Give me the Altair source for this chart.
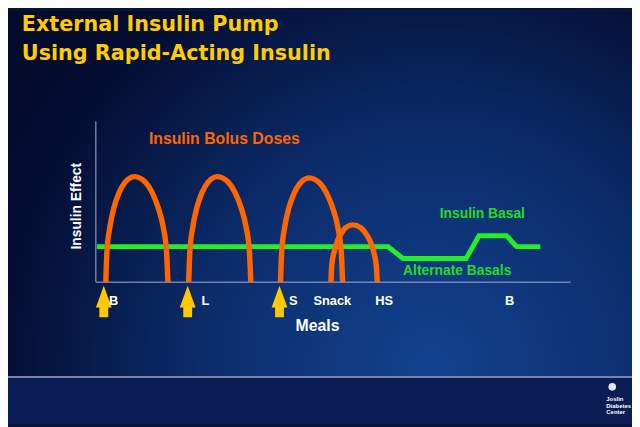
import altair as alt
import pandas as pd

# ---- data (x: hours along the day axis, y: insulin effect units) ----
arc1_x = [0.50, 0.56, 0.71, 0.92, 1.18, 1.47, 1.95, 2.51, 2.84, 3.14, 3.40, 3.57, 3.64]
arc1_y = [0.00, 1.90, 3.44, 4.66, 5.58, 6.20, 6.56, 6.20, 5.58, 4.66, 3.44, 1.90, 0.00]
arc2_x = [4.69, 4.75, 4.90, 5.11, 5.37, 5.66, 6.14, 6.70, 7.03, 7.33, 7.59, 7.76, 7.83]
arc2_y = [0.00, 1.90, 3.44, 4.66, 5.58, 6.20, 6.56, 6.20, 5.58, 4.66, 3.44, 1.90, 0.00]
arc3_x = [9.33, 9.39, 9.54, 9.75, 10.01, 10.30, 10.78, 11.34, 11.67, 11.97, 12.23, 12.40, 12.47]
arc3_y = [0.00, 1.88, 3.40, 4.60, 5.50, 6.12, 6.48, 6.12, 5.50, 4.60, 3.40, 1.88, 0.00]
arc4_x = [11.88, 11.92, 12.04, 12.20, 12.40, 12.61, 12.97, 13.39, 13.63, 13.86, 14.04, 14.17, 14.22]
arc4_y = [0.00, 1.05, 1.88, 2.55, 3.04, 3.38, 3.56, 3.38, 3.04, 2.55, 1.88, 1.05, 0.00]

basal_x = [0.05, 14.77, 15.52, 18.71, 19.36, 20.76, 21.26, 22.46]
basal_y = [2.21, 2.21, 1.47, 1.47, 2.88, 2.88, 2.21, 2.21]

meal_labels = ["B", "L", "S", "Snack", "HS", "B"]
meal_label_x = [0.90, 5.54, 9.98, 11.95, 14.57, 20.91]
arrow_x = [0.40, 4.64, 9.28]

title_lines = ["External Insulin Pump", "Using Rapid-Acting Insulin"]

# ---- tables ----
rows = []
for name, xs_, ys_ in [("1", arc1_x, arc1_y), ("2", arc2_x, arc2_y),
                       ("3", arc3_x, arc3_y), ("4", arc4_x, arc4_y)]:
    for i, (a, b) in enumerate(zip(xs_, ys_)):
        rows.append({"arc": name, "i": i, "x": a, "y": b})
arcs_df = pd.DataFrame(rows)
basal_df = pd.DataFrame({"x": basal_x, "y": basal_y, "i": range(len(basal_x))})
labels_df = pd.DataFrame({"x": meal_label_x, "label": meal_labels, "y": [-1.17] * len(meal_labels)})
arrows_df = pd.DataFrame({"x": arrow_x, "y": [-1.20] * len(arrow_x)})
axes_df = pd.DataFrame({"x": [0, 0], "x2": [0, 24], "y": [0, 0], "y2": [10, 0]})

W, H = 632, 419
xs = alt.Scale(domain=[0, 24], range=[89, 570], nice=False, zero=False)
ys = alt.Scale(domain=[0, 10], range=[275, 112], nice=False, zero=False)

one = pd.DataFrame({"a": [0]})
FONT = "Liberation Sans"

bg = alt.Chart(one).mark_rect(
    color=alt.Gradient(
        gradient="radial",
        stops=[alt.GradientStop(color="#12428f", offset=0),
               alt.GradientStop(color="#0c2d6c", offset=0.45),
               alt.GradientStop(color="#040f35", offset=0.85),
               alt.GradientStop(color="#030a2a", offset=1)],
        x1=0.68, y1=0.78, r1=0, x2=0.68, y2=0.78, r2=0.8)
).encode(x=alt.value(0), x2=alt.value(W), y=alt.value(0), y2=alt.value(371))

bottom = alt.Chart(one).mark_rect(color="#0a1d55").encode(
    x=alt.value(0), x2=alt.value(W), y=alt.value(372), y2=alt.value(H))
sep = alt.Chart(one).mark_rule(color="#7b84a6", strokeWidth=2).encode(
    x=alt.value(0), x2=alt.value(W), y=alt.value(371))

axes = alt.Chart(axes_df).mark_rule(color="#a9b1cf", strokeWidth=1).encode(
    x=alt.X("x:Q", scale=xs, axis=None), x2="x2:Q",
    y=alt.Y("y:Q", scale=ys, axis=None), y2="y2:Q")

basal = alt.Chart(basal_df).mark_line(color="#22f022", strokeWidth=5, strokeCap="butt").encode(
    x=alt.X("x:Q", scale=xs, axis=None), y=alt.Y("y:Q", scale=ys, axis=None), order="i:Q")

arcs = alt.Chart(arcs_df).mark_line(color="#ff6600", strokeWidth=5.5, interpolate="monotone",
                                    strokeCap="butt").encode(
    x=alt.X("x:Q", scale=xs, axis=None), y=alt.Y("y:Q", scale=ys, axis=None),
    detail="arc:N", order="i:Q")

arrow_path = "M0,-1L0.5,0.375L0.28,0.375L0.28,1L-0.28,1L-0.28,0.375L-0.5,0.375Z"
arrows = alt.Chart(arrows_df).mark_point(shape=arrow_path, filled=True, color="#ffc800",
                                         opacity=1, size=1024, strokeWidth=0).encode(
    x=alt.X("x:Q", scale=xs, axis=None), y=alt.Y("y:Q", scale=ys, axis=None))

labels = alt.Chart(labels_df).mark_text(color="white", font=FONT, fontWeight="bold",
                                        fontSize=13, baseline="middle").encode(
    x=alt.X("x:Q", scale=xs, axis=None), y=alt.Y("y:Q", scale=ys, axis=None), text="label:N")


def note(text, x, y, color, size, angle=0):
    return alt.Chart(pd.DataFrame({"x": [x], "y": [y], "t": [text]})).mark_text(
        color=color, font=FONT, fontWeight="bold", fontSize=size, baseline="middle",
        angle=angle).encode(
        x=alt.X("x:Q", scale=xs, axis=None), y=alt.Y("y:Q", scale=ys, axis=None), text="t:N")


notes = [
    note("Meals", 11.20, -2.70, "white", 16),
    note("Insulin Effect", -0.95, 4.72, "white", 14, angle=270),
    note("Insulin Bolus Doses", 6.49, 8.90, "#ff6600", 16),
    note("Insulin Basal", 19.53, 4.23, "#22dd22", 14),
    note("Alternate Basals", 18.26, 0.67, "#22dd22", 14),
]

title1 = alt.Chart(one).mark_text(text=title_lines[0], color="#ffcc00", font="DejaVu Sans",
                                  fontWeight="bold", fontSize=21, align="left",
                                  baseline="alphabetic").encode(x=alt.value(14), y=alt.value(21))
title2 = alt.Chart(one).mark_text(text=title_lines[1], color="#ffcc00", font="DejaVu Sans",
                                  fontWeight="bold", fontSize=21, align="left",
                                  baseline="alphabetic").encode(x=alt.value(14), y=alt.value(50))

logo_dot = alt.Chart(one).mark_point(shape="circle", filled=True, color="#dfe6f2", size=60,
                                     opacity=1).encode(x=alt.value(612), y=alt.value(381))
logo_txt = [
    alt.Chart(one).mark_text(text=t, color="white", font=FONT, fontWeight="bold", fontSize=6,
                             align="left", baseline="middle").encode(x=alt.value(606), y=alt.value(yy))
    for t, yy in [("Joslin", 393), ("Diabetes", 400), ("Center", 407)]
]

chart = alt.layer(bg, bottom, sep, axes, basal, arcs, arrows, labels, *notes, title1, title2,
                  logo_dot, *logo_txt).properties(
    width=W, height=H, padding=0, background="#061434", autosize=alt.AutoSizeParams(type="none")
).configure_view(stroke=None)

chart.save("out.html", embed_options={"renderer": "svg", "actions": False})
